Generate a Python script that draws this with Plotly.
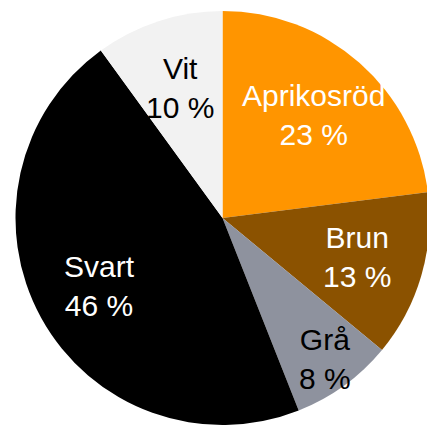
import math
import plotly.graph_objects as go

labels = ["Aprikosröd", "Brun", "Grå", "Svart", "Vit"]
values = [23, 13, 8, 46, 10]
colors = ["#FF9500", "#8B5200", "#8E929E", "#000000", "#F2F2F2"]
text_colors = ["white", "white", "black", "white", "black"]
label_radius = [0.665, 0.675, 0.84, 0.68, 0.66]  # fraction of radius where labels sit

# figure slightly wider than the 427px window; the pie is cropped at the right edge
W, H = 432, 425
cx, cy, r = 222.5, 218.0, 207.0

fig = go.Figure(go.Pie(
    labels=labels,
    values=values,
    sort=False,
    direction="clockwise",
    rotation=0,
    marker=dict(colors=colors, line=dict(width=0)),
    textinfo="none",
    hoverinfo="skip",
    domain=dict(x=[(cx - r) / W, (cx + r) / W],
                y=[max(0.0, (H - cy - r) / H), (H - cy + r) / H]),
))

total = sum(values)
cum = 0.0
for lab, v, tc, f in zip(labels, values, text_colors, label_radius):
    mid = (cum + v / 2) / total * 2 * math.pi
    cum += v
    px = cx + f * r * math.sin(mid)
    py = cy - f * r * math.cos(mid)
    fig.add_annotation(
        x=px / W, y=(H - py) / H, xref="paper", yref="paper",
        text=f"{lab}<br>{v} %", showarrow=False,
        xanchor="center", yanchor="middle", align="center",
        font=dict(family="Liberation Sans, Arial, sans-serif", size=30, color=tc),
    )

fig.update_layout(
    width=W, height=H,
    margin=dict(l=0, r=0, t=0, b=0),
    showlegend=False,
    paper_bgcolor="white",
)
fig.write_html(
    "out.html",
    config={"displayModeBar": False},
    post_script="document.body.style.margin='0';document.body.style.overflow='hidden';",
)
